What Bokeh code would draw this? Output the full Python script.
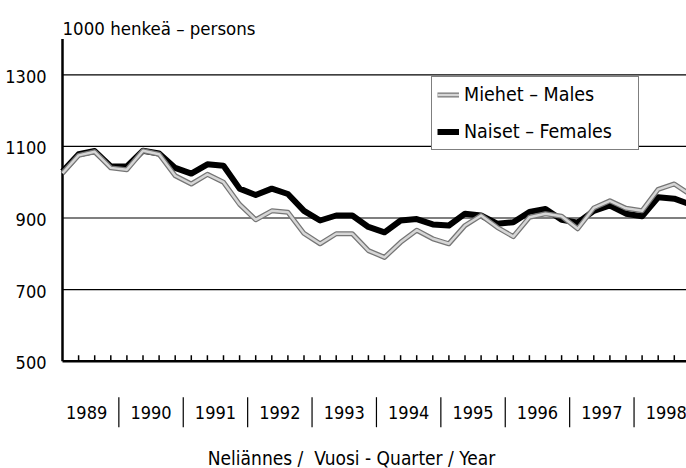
from bokeh.plotting import figure
from bokeh.models import Range1d, Legend, LegendItem
from bokeh.core.properties import value
from bokeh.embed import file_html
from bokeh.resources import INLINE

FONT = "DejaVu Sans Condensed, DejaVu Sans, sans-serif"

# ---- data (1000 persons, quarterly 1989Q1 .. 1998Q4) ----
years = ["1989", "1990", "1991", "1992", "1993", "1994", "1995", "1996", "1997", "1998"]
quarter_index = list(range(40))
males = [1025, 1075, 1085, 1040, 1035, 1088, 1078, 1018, 995, 1022,
         1000, 938, 895, 920, 916, 857, 828, 856, 856, 809,
         790, 832, 866, 842, 828, 879, 907, 874, 848, 902,
         912, 905, 870, 928, 948, 927, 920, 980, 995, 965]
females = [1030, 1078, 1087, 1044, 1044, 1088, 1080, 1040, 1024, 1050,
           1046, 982, 964, 982, 967, 920, 893, 907, 907, 875,
           860, 893, 897, 882, 879, 912, 907, 884, 888, 917,
           925, 895, 887, 920, 935, 912, 905, 958, 954, 938]
y_ticks = [500, 700, 900, 1100, 1300]
y_tick_labels = ["500", "700", "900", "1100", "1300"]
grid_values = [700, 900, 1100, 1300]
y_base, y_top = 500, 1400
title_text = "1000 henkeä – persons"
x_title_text = "Neliännes /\u00a0 Vuosi - Quarter / Year"
male_label = "Miehet – Males"
female_label = "Naiset – Females"

# ---- geometry: the whole figure is the plot frame ----
W, H = 686, 468
px_per_q = 16.1          # pixels per quarter
px_per_unit = 0.358      # pixels per 1000 persons
axis_px_x = 62           # x of the y-axis line inside the figure
axis_px_y = 360.7        # y of the 500-line inside the figure (from top)
x_start = -axis_px_x / px_per_q
x_end = (W - axis_px_x) / px_per_q
y_end = y_base + axis_px_y / px_per_unit
y_start = y_base - (H - axis_px_y) / px_per_unit

p = figure(width=W, height=H, output_backend="svg", toolbar_location=None, tools="",
           x_range=Range1d(x_start, x_end), y_range=Range1d(y_start, y_end),
           x_axis_location=None, y_axis_location=None,
           min_border_left=0, min_border_right=0, min_border_top=0, min_border_bottom=0)
p.outline_line_color = None
p.background_fill_color = "white"
p.border_fill_color = "white"
p.xgrid.visible = False
p.ygrid.visible = False

def px_x(dx):
    return dx / px_per_q

def px_y(dy):
    return dy / px_per_unit

# horizontal grid lines
p.segment(x0=[0] * len(grid_values), y0=grid_values, x1=[x_end] * len(grid_values),
          y1=grid_values, line_color="black", line_width=1.2)

# axis lines
p.segment(x0=[0], y0=[y_base], x1=[0], y1=[y_top], line_color="black", line_width=2.5)
p.segment(x0=[0], y0=[y_base], x1=[x_end], y1=[y_base], line_color="black", line_width=2.5)

# y tick labels
p.text(x=[-px_x(16)] * len(y_ticks), y=[v - px_y(1.5) for v in y_ticks], text=y_tick_labels,
       text_align="right", text_baseline="middle", text_font=value(FONT),
       text_font_size=value("18px"), text_color="black")

# quarter ticks (pointing up into the plot)
tick_q = quarter_index[1:]
p.segment(x0=tick_q, y0=[y_base] * len(tick_q), x1=tick_q, y1=[y_base + px_y(6)] * len(tick_q),
          line_color="black", line_width=1.5)

# year labels & separators
year_centers = [4 * k + 1.5 for k in range(len(years))]
p.text(x=year_centers, y=[y_base - px_y(51)] * len(years), text=years, text_align="center",
       text_baseline="middle", text_font=value(FONT), text_font_size=value("18px"),
       text_color="black")
seps = [4 * k + 3.5 for k in range(len(years) - 1)]
p.segment(x0=seps, y0=[y_base - px_y(36)] * len(seps), x1=seps, y1=[y_base - px_y(66)] * len(seps),
          line_color="black", line_width=1.2)

# x axis title
p.text(x=[px_x(289)], y=[y_base - px_y(97)], text=[x_title_text], text_align="center",
       text_baseline="middle", text_font=value(FONT), text_font_size=value("19px"),
       text_color="black")

# unit title
p.text(x=[0], y=[y_top + px_y(11)], text=[title_text], text_align="left",
       text_baseline="alphabetic", text_font=value(FONT), text_font_size=value("18.5px"),
       text_color="black")

# series
rf = p.line(quarter_index, females, line_color="black", line_width=6, line_join="round")
rm1 = p.line(quarter_index, males, line_color="#767676", line_width=5, line_join="round")
rm2 = p.line(quarter_index, males, line_color="#d6d6d6", line_width=2.5, line_join="round")

legend = Legend(items=[LegendItem(label=male_label, renderers=[rm1, rm2]),
                       LegendItem(label=female_label, renderers=[rf])],
                location=(431, 318), orientation="vertical",
                padding=5, spacing=12, margin=0,
                glyph_width=22, glyph_height=25, label_height=25, label_width=169,
                label_standoff=5,
                label_text_font=FONT, label_text_font_size="19.5px", label_text_color="black",
                border_line_color="black", border_line_width=1.2,
                background_fill_color="white", background_fill_alpha=1.0)
p.add_layout(legend, "center")

open("out.html", "w").write(file_html(p, INLINE))
